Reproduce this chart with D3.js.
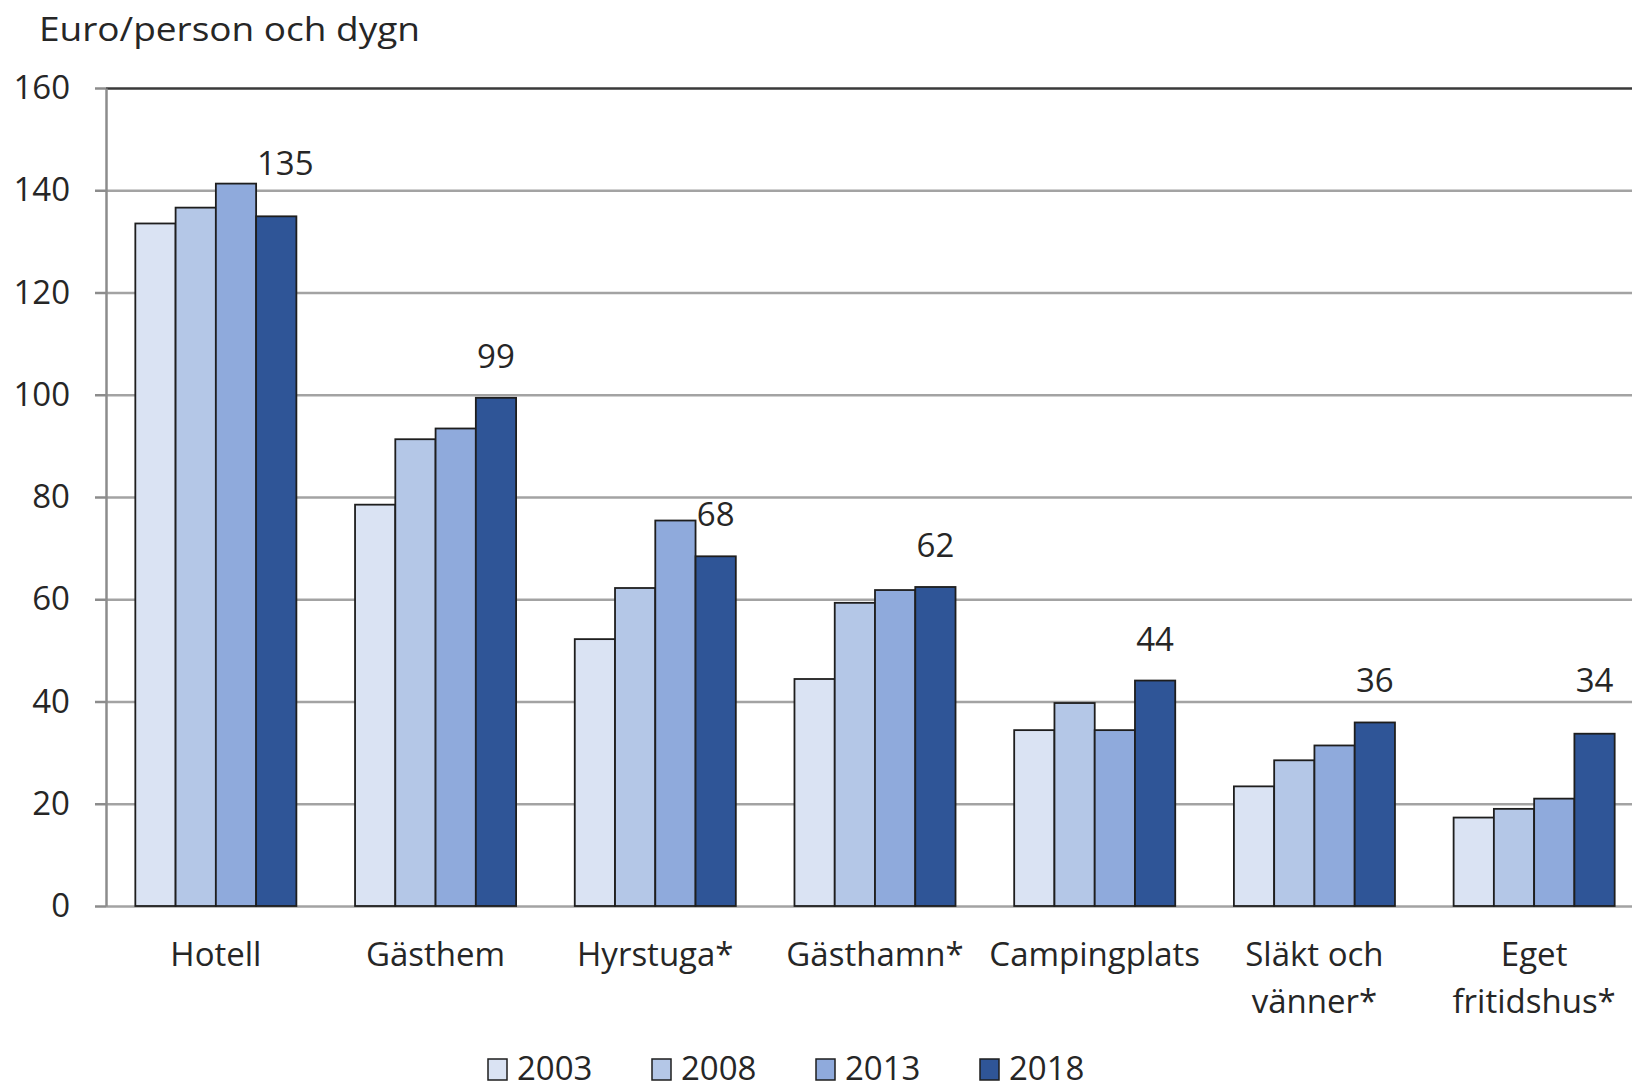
<!DOCTYPE html>
<html>
<head>
<meta charset="utf-8">
<script src="https://cdn.jsdelivr.net/npm/d3@7"></script>
<style>
  body { margin: 0; background: #fff; }
  svg text { font-family: "Open Sans", sans-serif; fill: #262626; }
</style>
</head>
<body>
<svg id="chart" width="1632" height="1090"></svg>
<script>
// chart data
const categories = ["Hotell", "Gästhem", "Hyrstuga*", "Gästhamn*", "Campingplats", "Släkt och vänner*", "Eget fritidshus*"];
const catLines = [["Hotell"], ["Gästhem"], ["Hyrstuga*"], ["Gästhamn*"], ["Campingplats"], ["Släkt och", "vänner*"], ["Eget", "fritidshus*"]];
const years = ["2003", "2008", "2013", "2018"];
const v2003 = [133.5, 78.5, 52.2, 44.4, 34.4, 23.4, 17.3];
const v2008 = [136.6, 91.3, 62.2, 59.3, 39.7, 28.5, 19.0];
const v2013 = [141.3, 93.4, 75.4, 61.8, 34.4, 31.4, 21.0];
const v2018 = [134.9, 99.4, 68.4, 62.4, 44.1, 35.9, 33.7];
const yTicks = [0, 20, 40, 60, 80, 100, 120, 140, 160];
const colors = ["#dae3f3", "#b4c7e7", "#8faadc", "#2f5597"];

const series = [v2003, v2008, v2013, v2018];

const svg = d3.select("#chart");
const plotLeft = 106, plotRight = 1644, plotTop = 88, plotBottom = 906;
const fs = "33px";

const y = d3.scaleLinear().domain([0, 160]).range([plotBottom, plotTop]);
const x0 = d3.scaleBand().domain(categories).range([plotLeft, plotRight])
  .paddingInner(0.267).paddingOuter(0.1335);
const x1 = d3.scaleBand().domain(years).range([0, x0.bandwidth()]);
const color = d3.scaleOrdinal().domain(years).range(colors);

// gridlines
const grid = svg.append("g")
  .attr("transform", `translate(${plotLeft},0)`)
  .call(d3.axisLeft(y).tickValues(yTicks).tickSize(-(1632 - plotLeft)).tickFormat(""));
grid.select(".domain").remove();
grid.selectAll(".tick line")
  .attr("stroke", d => d === 160 ? "#3a3a3a" : "#a3a3a3")
  .attr("stroke-width", 2.5);

// y axis
const yAxis = svg.append("g")
  .attr("transform", `translate(${plotLeft},0)`)
  .call(d3.axisLeft(y).tickValues(yTicks).tickSize(11).tickSizeOuter(0).tickPadding(25));
yAxis.select(".domain").attr("stroke", "#8c8c8c").attr("stroke-width", 2.5);
yAxis.selectAll(".tick line").attr("stroke", "#8c8c8c").attr("stroke-width", 2.5);
yAxis.selectAll(".tick text").style("font-size", fs);

// bars
const rows = categories.map((c, i) => ({ cat: c, vals: years.map((yr, j) => ({ year: yr, value: series[j][i] })) }));

const groups = svg.append("g").selectAll("g")
  .data(rows).enter().append("g")
  .attr("transform", d => `translate(${x0(d.cat)},0)`);

groups.selectAll("rect")
  .data(d => d.vals).enter().append("rect")
  .attr("x", d => x1(d.year))
  .attr("y", d => y(d.value))
  .attr("width", x1.bandwidth())
  .attr("height", d => y(0) - y(d.value))
  .attr("fill", d => color(d.year))
  .attr("stroke", "#1e1e1e")
  .attr("stroke-width", 1.8);

// value labels for 2018
const nudge = { "Hotell": [9, -11], "Eget fritidshus*": [0, -12] };
svg.append("g").selectAll("text")
  .data(rows).enter().append("text")
  .attr("x", d => x0(d.cat) + x1("2018") + x1.bandwidth() / 2 + (nudge[d.cat] ? nudge[d.cat][0] : 0))
  .attr("y", d => y(d.vals[3].value) - 30 + (nudge[d.cat] ? nudge[d.cat][1] : 0))
  .attr("text-anchor", "middle")
  .style("font-size", fs)
  .text(d => Math.round(d.vals[3].value));

// x axis labels
const xAxis = svg.append("g")
  .attr("transform", `translate(0,${plotBottom})`)
  .call(d3.axisBottom(x0).tickSize(0));
xAxis.select(".domain").remove();
xAxis.selectAll(".tick text").each(function(d, i) {
  const t = d3.select(this).text(null).attr("y", 0).attr("dy", null).style("font-size", fs);
  catLines[i].forEach((line, k) => {
    t.append("tspan").attr("x", 0).attr("y", 60 + k * 47).text(line);
  });
});

// title
svg.append("text")
  .attr("x", 39).attr("y", 41)
  .attr("textLength", 381)
  .attr("lengthAdjust", "spacingAndGlyphs")
  .style("font-size", fs)
  .text("Euro/person och dygn");

// legend
const legend = svg.append("g").attr("transform", "translate(488,1059)");
const items = legend.selectAll("g").data(years).enter().append("g")
  .attr("transform", (d, i) => `translate(${i * 164},0)`);
items.append("rect")
  .attr("width", 19).attr("height", 21)
  .attr("fill", d => color(d))
  .attr("stroke", "#1e1e1e").attr("stroke-width", 1.5);
items.append("text")
  .attr("x", 29).attr("y", 21)
  .style("font-size", "33px")
  .text(d => d);
</script>
</body>
</html>
